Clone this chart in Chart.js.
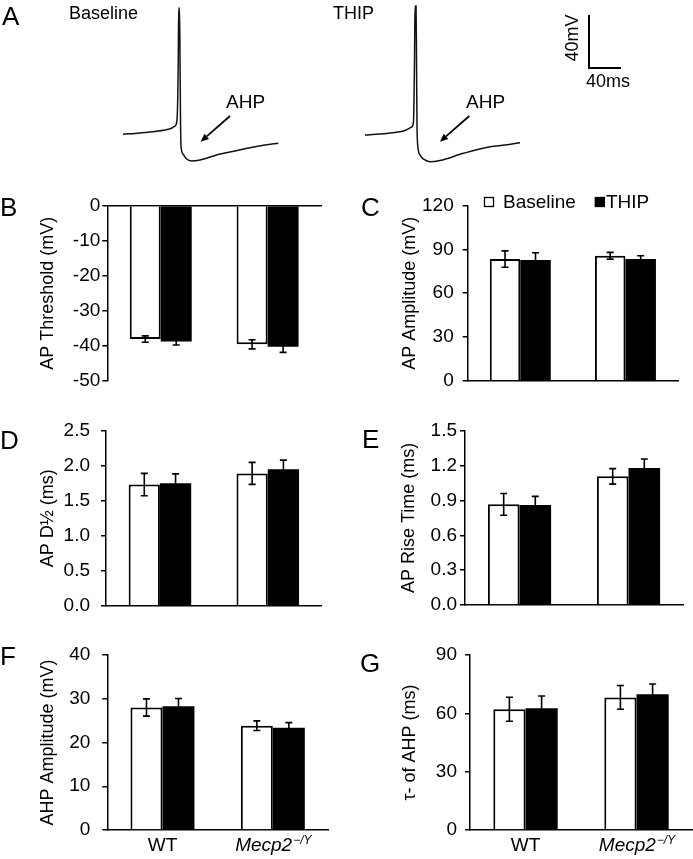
<!DOCTYPE html>
<html><head><meta charset="utf-8">
<script src="https://cdn.jsdelivr.net/npm/chart.js@4.4.1/dist/chart.umd.min.js"></script>
<style>
html,body{margin:0;padding:0;background:#fff}
body{width:693px;height:859px;position:relative;overflow:hidden;font-family:"Liberation Sans",Arial,sans-serif;color:#000}
.t{position:absolute;line-height:1;white-space:nowrap;color:#000}
canvas{position:absolute;display:block}
</style></head>
<body>
<!-- panel A -->
<canvas id="trace1" width="165" height="170" style="left:120px;top:0"></canvas>
<canvas id="trace2" width="165" height="170" style="left:362px;top:0"></canvas>
<canvas id="scalebar" width="60" height="170" style="left:580px;top:0"></canvas>
<svg style="position:absolute;left:0;top:0" width="693" height="170">
  <line x1="230" y1="116" x2="206.7" y2="136.4" stroke="#000" stroke-width="1.7"/>
  <polygon points="200.7,141.7 209.0,139.0 204.4,133.8" fill="#000"/>
  <line x1="469.3" y1="116" x2="446" y2="136.4" stroke="#000" stroke-width="1.7"/>
  <polygon points="440,141.7 448.3,139.0 443.7,133.8" fill="#000"/>
</svg>
<div class="t" style="left:2px;top:3px;font-size:26px">A</div>
<div class="t" style="left:69px;top:4px;font-size:18px">Baseline</div>
<div class="t" style="left:333px;top:4px;font-size:18px">THIP</div>
<div class="t" style="left:226px;top:92px;font-size:19px">AHP</div>
<div class="t" style="left:466px;top:92px;font-size:19px">AHP</div>
<div class="t" style="left:572px;top:38px;font-size:18px;transform:translate(-50%,-50%) rotate(-90deg)">40mV</div>
<div class="t" style="left:586px;top:72px;font-size:18px">40ms</div>

<!-- bar panels -->
<canvas id="cB" width="340" height="235" style="left:0;top:160px"></canvas>
<canvas id="cC" width="353" height="235" style="left:340px;top:160px"></canvas>
<canvas id="cD" width="340" height="225" style="left:0;top:400px"></canvas>
<canvas id="cE" width="353" height="225" style="left:340px;top:400px"></canvas>
<canvas id="cF" width="340" height="229" style="left:0;top:630px"></canvas>
<canvas id="cG" width="353" height="229" style="left:340px;top:630px"></canvas>
<div class="t" style="left:0px;top:194px;font-size:26px">B</div>
<div class="t" style="left:361px;top:194px;font-size:26px">C</div>
<div class="t" style="left:0px;top:427px;font-size:26px">D</div>
<div class="t" style="left:362px;top:426px;font-size:26px">E</div>
<div class="t" style="left:0px;top:643px;font-size:26px">F</div>
<div class="t" style="left:360px;top:650px;font-size:26px">G</div>

<script>
// ---------------- DATA ----------------
const categories = ['WT', 'Mecp2\u2212/Y'];
const seriesLabels = ['Baseline', 'THIP'];

// A: example traces (time ms, membrane potential mV)
const baselineTraceMs = [0, 21.3, 40, 52.5, 61.3, 65, 67.5, 69.1, 69.6, 70.6, 71.3, 71.9, 72.5, 75, 78.8, 85.9, 96.3, 117.1, 140, 158.8, 177.5, 194.1];
const baselineTraceMv = [-60.2, -59.2, -58.1, -57.0, -55.5, -54.0, -49.4, -4.2, 35.1, 35.1, -4.2, -49.4, -69.1, -75.1, -78.5, -80.4, -79.6, -75.8, -72.8, -70.3, -68.3, -67.0];
const thipTraceMs = [0, 18.8, 37.5, 50, 58.4, 60.6, 61.9, 62.5, 63.8, 64.4, 65, 66.3, 68.8, 73.8, 81.3, 93.8, 122.9, 156.3, 175, 193.8];
const thipTraceMv = [-60.8, -60, -58.9, -57.4, -54.7, -50.9, -4.2, 36.6, 36.6, -4.2, -53.2, -70.6, -75.8, -79.2, -80.9, -80, -74.6, -69.6, -68.3, -66.6];
const scaleBarMs = 40;
const scaleBarMv = 40;

// B: AP threshold (mV)
const thresholdBaseline = [-38.1, -39.6];
const thresholdThip = [-38.8, -40.3];
const thresholdBaselineErr = [0.9, 1.3];
const thresholdThipErr = [1.0, 1.6];
const thresholdTicks = [0, -10, -20, -30, -40, -50];

// C: AP amplitude (mV)
const amplitudeBaseline = [83.4, 85.7];
const amplitudeThip = [82.7, 83.4];
const amplitudeBaselineErr = [5.6, 2.3];
const amplitudeThipErr = [5.0, 2.3];
const amplitudeTicks = [0, 30, 60, 90, 120];

// D: AP half-width (ms)
const halfWidthBaseline = [1.73, 1.89];
const halfWidthThip = [1.75, 1.95];
const halfWidthBaselineErr = [0.16, 0.157];
const halfWidthThipErr = [0.133, 0.129];
const halfWidthTicks = [0, 0.5, 1.0, 1.5, 2.0, 2.5];

// E: AP rise time (ms)
const riseBaseline = [0.866, 1.107];
const riseThip = [0.860, 1.179];
const riseBaselineErr = [0.093, 0.067];
const riseThipErr = [0.075, 0.077];
const riseTicks = [0, 0.3, 0.6, 0.9, 1.2, 1.5];

// F: AHP amplitude (mV)
const ahpAmpBaseline = [28.0, 23.85];
const ahpAmpThip = [28.3, 23.4];
const ahpAmpBaselineErr = [1.98, 1.1];
const ahpAmpThipErr = [1.75, 1.14];
const ahpAmpTicks = [0, 10, 20, 30, 40];

// G: tau of AHP (ms)
const tauBaseline = [62.1, 68.2];
const tauThip = [62.6, 69.8];
const tauBaselineErr = [6.2, 6.1];
const tauThipErr = [6.3, 5.3];
const tauTicks = [0, 30, 60, 90];

// ---------------- RENDER ----------------
const FONT = '"Liberation Sans", Arial, sans-serif';
Chart.defaults.font.family = FONT;
Chart.defaults.color = '#000';
Chart.defaults.animation = false;
Chart.defaults.devicePixelRatio = 1;

// trace scale: 0.8 px per ms, 1.325 px per mV
const MS_PER_PX = 1.25, MV_PER_PX = 40 / 53;
function traceChart(id, ms, mv, yTopMv) {
  const cv = document.getElementById(id);
  const minX = -3 * MS_PER_PX;
  new Chart(cv, {
    type: 'line',
    data: { datasets: [{
      data: ms.map((t, i) => ({ x: t, y: mv[i] })),
      borderColor: '#111', borderWidth: 1.5, pointRadius: 0,
      cubicInterpolationMode: 'monotone', fill: false
    }]},
    options: {
      responsive: false, events: [],
      layout: { padding: 0 },
      plugins: { legend: { display: false }, tooltip: { enabled: false } },
      scales: {
        x: { type: 'linear', display: false, min: minX, max: minX + cv.width * MS_PER_PX },
        y: { type: 'linear', display: false, max: yTopMv, min: yTopMv - cv.height * MV_PER_PX }
      }
    }
  });
}
const V_AT_TOP = -60 + 134 * MV_PER_PX;
traceChart('trace1', baselineTraceMs, baselineTraceMv, V_AT_TOP);
traceChart('trace2', thipTraceMs, thipTraceMv, V_AT_TOP);

// scale bar
(function(){
  const cv = document.getElementById('scalebar');
  const minX = -9 * MS_PER_PX;
  const yTop = 68 * MV_PER_PX;
  new Chart(cv, {
    type: 'line',
    data: { datasets: [{
      data: [{ x: 0, y: scaleBarMv }, { x: 0, y: 0 }, { x: scaleBarMs, y: 0 }],
      borderColor: '#000', borderWidth: 2, pointRadius: 0, tension: 0, fill: false,
      borderJoinStyle: 'miter'
    }]},
    options: {
      responsive: false, events: [], layout: { padding: 0 },
      plugins: { legend: { display: false }, tooltip: { enabled: false } },
      scales: {
        x: { type: 'linear', display: false, min: minX, max: minX + cv.width * MS_PER_PX },
        y: { type: 'linear', display: false, max: yTop, min: yTop - cv.height * MV_PER_PX }
      }
    }
  });
})();

// error bars plugin
const errorBars = {
  id: 'errorBars',
  afterDatasetsDraw(chart) {
    const ctx = chart.ctx, ys = chart.scales.y;
    chart.data.datasets.forEach((ds, di) => {
      if (!ds.errors) return;
      const meta = chart.getDatasetMeta(di);
      meta.data.forEach((el, i) => {
        const v = ds.data[i], e = ds.errors[i];
        const y1 = ys.getPixelForValue(v + e), y2 = ys.getPixelForValue(v - e);
        ctx.save();
        ctx.strokeStyle = '#000'; ctx.lineWidth = 1.6;
        ctx.beginPath();
        ctx.moveTo(el.x, y1); ctx.lineTo(el.x, y2);
        ctx.moveTo(el.x - 3.5, y1); ctx.lineTo(el.x + 3.5, y1);
        ctx.moveTo(el.x - 3.5, y2); ctx.lineTo(el.x + 3.5, y2);
        ctx.stroke();
        ctx.restore();
      });
    });
  }
};

// category labels (WT, italic Mecp2 with superscript)
const catLabels = {
  id: 'catLabels',
  afterDraw(chart, args, opts) {
    if (!opts.show) return;
    const ctx = chart.ctx, xs = chart.scales.x;
    const y = chart.chartArea.bottom + opts.offset;
    chart.data.labels.forEach((lab, i) => {
      const cx = xs.getPixelForValue(i);
      const m = /^(Mecp2)(.*)$/.exec(lab);
      ctx.save();
      ctx.fillStyle = '#000';
      ctx.textBaseline = 'alphabetic';
      if (m) {
        ctx.font = 'italic 19px ' + FONT;
        const w1 = ctx.measureText(m[1]).width;
        ctx.font = 'italic 12px ' + FONT;
        const w2 = ctx.measureText(m[2]).width;
        const x0 = cx - (w1 + w2) / 2;
        ctx.font = 'italic 19px ' + FONT;
        ctx.fillText(m[1], x0, y);
        ctx.font = 'italic 12px ' + FONT;
        ctx.fillText(m[2], x0 + w1 + 1, y - 7);
      } else {
        ctx.font = '19px ' + FONT;
        ctx.textAlign = 'center';
        ctx.fillText(lab, cx, y);
      }
      ctx.restore();
    });
  }
};

// legend plugin
const boxLegend = {
  id: 'boxLegend',
  afterDraw(chart, args, opts) {
    if (!opts.show) return;
    const ctx = chart.ctx;
    ctx.save();
    ctx.font = '19px ' + FONT;
    ctx.textBaseline = 'middle';
    let x = opts.x;
    chart.data.datasets.forEach((ds, i) => {
      ctx.fillStyle = ds.backgroundColor;
      ctx.fillRect(x, opts.y - 5, 10, 10);
      ctx.strokeStyle = '#000'; ctx.lineWidth = 1.3;
      ctx.strokeRect(x + 0.5, opts.y - 4.5, 9, 9);
      ctx.fillStyle = '#000';
      const tx = x + (i === 0 ? 19 : 11);
      ctx.fillText(ds.label, tx, opts.y + 1);
      x = tx + ctx.measureText(ds.label).width + 19;
    });
    ctx.restore();
  }
};

function barPanel(p) {
  const cv = document.getElementById(p.id);
  const W = cv.width, H = cv.height;
  const lineH = 18 * 1.2;
  new Chart(cv, {
    type: 'bar',
    data: {
      labels: categories,
      datasets: [
        { label: seriesLabels[0], data: p.base, errors: p.baseErr, backgroundColor: '#ffffff', borderColor: '#000', borderWidth: 2 },
        { label: seriesLabels[1], data: p.thip, errors: p.thipErr, backgroundColor: '#000000', borderColor: '#000', borderWidth: 0 }
      ]
    },
    options: {
      responsive: false, events: [],
      layout: { padding: { top: p.topPix - p.top, bottom: p.top + H - p.bottomPix, left: 0, right: p.left + W - p.rightPix } },
      datasets: { bar: { categoryPercentage: 0.58, barPercentage: 1.0 } },
      plugins: {
        legend: { display: false }, tooltip: { enabled: false },
        catLabels: { show: !!p.cats, offset: 21 },
        boxLegend: { show: !!p.legend, x: 144, y: 42 }
      },
      scales: {
        x: {
          position: p.xPos, grid: { display: false },
          ticks: { display: false },
          border: { display: true, color: '#000', width: 1.5 },
          afterFit: s => { s.height = 0; s.paddingLeft = 0; s.paddingRight = 0; }
        },
        y: {
          min: Math.min(...p.ticks), max: Math.max(...p.ticks),
          afterBuildTicks: s => { s.ticks = p.ticks.slice().sort((a, b) => a - b).map(v => ({ value: v })); },
          grid: { display: true, drawOnChartArea: false, drawTicks: true, tickLength: 5, color: '#000', lineWidth: 1.5 },
          border: { display: true, color: '#000', width: 1.5 },
          ticks: { font: { size: 19 }, color: '#000', padding: p.tickPad,
                   callback: v => p.dec ? Number(v).toFixed(p.dec) : String(v) },
          title: { display: true, text: p.title, font: { size: 18 }, color: '#000',
                   padding: { top: p.titleX - p.left - lineH / 2, bottom: 0 } },
          afterFit: s => { s.width = p.axisX - p.left; s.paddingTop = 0; s.paddingBottom = 0; }
        }
      }
    },
    plugins: [errorBars, catLabels, boxLegend]
  });
}

barPanel({ id: 'cB', left: 0, top: 160, axisX: 107.3, topPix: 205.7, bottomPix: 380.7, rightPix: 321, xPos: 'top',
  tickPad: 2, titleX: 48, title: 'AP Threshold (mV)', ticks: thresholdTicks, dec: 0,
  base: thresholdBaseline, thip: thresholdThip, baseErr: thresholdBaselineErr, thipErr: thresholdThipErr });
barPanel({ id: 'cC', left: 340, top: 160, axisX: 467.7, topPix: 205.7, bottomPix: 380.7, rightPix: 678, xPos: 'bottom',
  tickPad: 9, titleX: 410, title: 'AP Amplitude (mV)', ticks: amplitudeTicks, dec: 0, legend: true,
  base: amplitudeBaseline, thip: amplitudeThip, baseErr: amplitudeBaselineErr, thipErr: amplitudeThipErr });
barPanel({ id: 'cD', left: 0, top: 400, axisX: 106, topPix: 430.7, bottomPix: 605.7, rightPix: 321.7, xPos: 'bottom',
  tickPad: 11, titleX: 48, title: 'AP D\u00BD (ms)', ticks: halfWidthTicks, dec: 1,
  base: halfWidthBaseline, thip: halfWidthThip, baseErr: halfWidthBaselineErr, thipErr: halfWidthThipErr });
barPanel({ id: 'cE', left: 340, top: 400, axisX: 465, topPix: 430.7, bottomPix: 605, rightPix: 683, xPos: 'bottom',
  tickPad: 3, titleX: 409, title: 'AP Rise Time (ms)', ticks: riseTicks, dec: 1,
  base: riseBaseline, thip: riseThip, baseErr: riseBaselineErr, thipErr: riseThipErr });
barPanel({ id: 'cF', left: 0, top: 630, axisX: 107.3, topPix: 655, bottomPix: 830, rightPix: 328, xPos: 'bottom',
  tickPad: 12, titleX: 48, title: 'AHP Amplitude (mV)', ticks: ahpAmpTicks, dec: 0, cats: true,
  base: ahpAmpBaseline, thip: ahpAmpThip, baseErr: ahpAmpBaselineErr, thipErr: ahpAmpThipErr });
barPanel({ id: 'cG', left: 340, top: 630, axisX: 470, topPix: 655, bottomPix: 830, rightPix: 692, xPos: 'bottom',
  tickPad: 8, titleX: 410, title: '\u03C4- of AHP (ms)', ticks: tauTicks, dec: 0, cats: true,
  base: tauBaseline, thip: tauThip, baseErr: tauBaselineErr, thipErr: tauThipErr });
</script>
</body></html>
